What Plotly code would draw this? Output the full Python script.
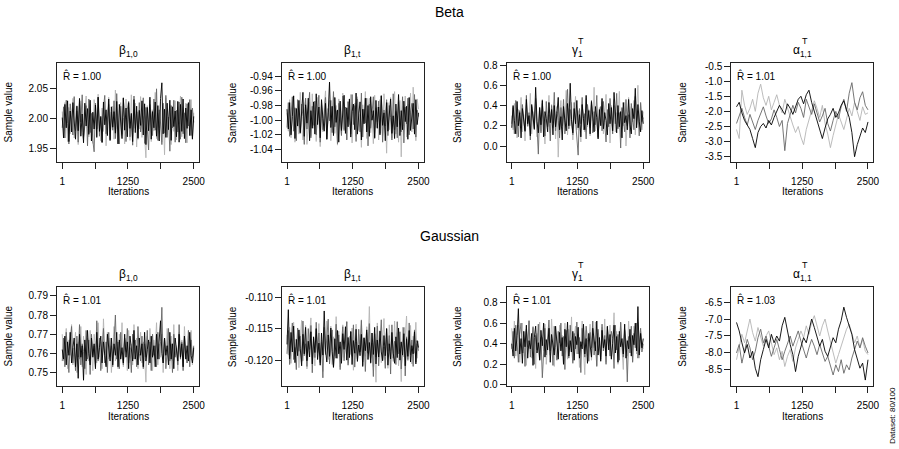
import plotly.graph_objects as go

# =============================================================================
# DATA (MCMC traces, 3 chains per parameter)
# =============================================================================
# thinned iteration grids: 100 draws for well-mixed chains, 50 for the slow ones
ITER_100 = [round(1 + j * 2499 / 99) for j in range(100)]
ITER_50 = [round(1 + j * 2499 / 49) for j in range(50)]
X_TICKS = [1, 1250, 2500]
X_MINOR_TICKS = [625, 1875]

GROUPS = ["Beta", "Gaussian"]
PARAM_LABELS = ["β<sub>1,0</sub>", "β<sub>1,t</sub>", "γ<sub>1</sub>", "α<sub>1,1</sub>"]
PARAM_SUPER = ["", "", "T", "T"]
RHAT_BETA = ["1.00", "1.00", "1.00", "1.01"]
RHAT_GAUSS = ["1.01", "1.01", "1.01", "1.03"]

# --- Beta model ---
B_B10_LIGHT = [2.012, 1.981, 2.027, 2.003, 1.962, 2.019, 1.975, 1.998, 2.034, 1.968,
               1.990, 2.022, 1.957, 2.008, 2.030, 1.977, 1.965, 2.015, 2.038, 1.984,
               1.970, 2.025, 1.996, 1.959, 2.032, 2.010, 1.972, 2.041, 1.988, 1.963,
               2.018, 1.979, 2.029, 1.955, 2.006, 2.036, 1.974, 1.993, 2.021, 1.966,
               2.048, 1.982, 1.960, 2.014, 2.027, 1.971, 2.001, 1.958, 2.033, 1.986,
               2.019, 1.964, 2.040, 1.978, 1.995, 2.026, 1.953, 2.011, 1.983, 2.037,
               1.969, 2.004, 1.976, 1.935, 2.022, 1.989, 2.031, 1.962, 2.015, 1.980,
               2.044, 1.967, 2.009, 1.985, 2.028, 1.961, 2.017, 1.940, 2.035, 1.973,
               1.998, 2.024, 1.957, 2.012, 1.979, 2.030, 1.965, 2.020, 1.991, 2.038,
               1.970, 2.007, 1.982, 2.026, 1.960, 2.016, 1.987, 2.032, 1.968, 2.010]
B_B10_DARK = [1.985, 2.020, 1.968, 2.031, 1.992, 1.958, 2.025, 2.004, 1.973, 2.037,
              1.980, 2.013, 1.961, 2.028, 1.995, 2.040, 1.969, 1.988, 2.022, 1.955,
              2.033, 1.977, 2.009, 1.964, 1.945, 2.026, 1.983, 2.036, 1.971, 2.002,
              1.960, 2.018, 2.039, 1.975, 1.996, 2.024, 1.963, 2.011, 1.981, 2.030,
              1.967, 2.042, 1.986, 1.958, 2.021, 1.974, 2.034, 1.990, 1.962, 2.016,
              2.029, 1.970, 2.005, 1.956, 2.038, 1.984, 2.012, 1.966, 2.027, 1.978,
              1.997, 2.035, 1.959, 2.019, 1.987, 1.948, 2.024, 2.008, 1.972, 2.033,
              1.981, 2.050, 1.964, 2.015, 1.993, 1.957, 2.026, 1.976, 2.039, 1.969,
              2.003, 1.946, 2.022, 1.985, 2.031, 1.961, 2.014, 1.978, 2.028, 1.966,
              2.036, 1.975, 2.010, 1.960, 2.025, 1.988, 2.032, 1.972, 2.018, 1.994]
B_B10_BLACK = [2.002, 1.968, 2.024, 1.985, 2.030, 1.962, 2.013, 1.978, 2.027, 1.994,
               1.966, 2.021, 1.980, 2.034, 1.971, 2.008, 1.960, 2.026, 1.988, 2.017,
               1.974, 2.031, 1.963, 2.011, 1.983, 2.023, 1.969, 2.036, 1.979, 2.004,
               1.961, 2.028, 1.990, 2.015, 1.972, 2.033, 1.965, 2.020, 1.986, 2.012,
               1.976, 2.029, 1.958, 2.024, 1.992, 1.967, 2.035, 1.981, 2.018, 1.970,
               2.027, 1.984, 2.009, 1.962, 2.032, 1.977, 2.021, 1.968, 2.014, 1.989,
               2.030, 1.973, 2.025, 1.957, 2.019, 1.980, 2.036, 1.966, 2.012, 1.985,
               2.028, 1.971, 2.022, 1.963, 2.034, 2.060, 1.975, 2.016, 1.969, 2.026,
               1.982, 2.031, 1.964, 2.020, 1.987, 2.013, 1.970, 2.029, 1.961, 2.024,
               1.979, 2.033, 1.967, 2.018, 1.984, 2.027, 1.972, 2.015, 1.966, 2.004]

B_B1T_LIGHT = [-0.990, -1.015, -0.972, -1.024, -0.985, -0.966, -1.030, -1.002, -0.978, -1.019,
               -0.962, -1.008, -1.027, -0.981, -0.970, -1.033, -0.993, -0.975, -1.021, -0.964,
               -1.011, -0.987, -1.029, -0.969, -0.998, -1.036, -0.976, -1.016, -0.983, -0.960,
               -1.023, -0.991, -0.973, -1.028, -1.004, -0.967, -1.018, -0.980, -1.034, -0.971,
               -0.995, -1.020, -0.963, -1.012, -0.986, -1.026, -0.974, -1.006, -0.965, -1.031,
               -0.988, -0.977, -1.022, -0.968, -1.014, -0.992, -1.037, -0.979, -1.003, -0.961,
               -1.025, -0.984, -0.970, -1.017, -0.996, -1.032, -0.966, -1.010, -0.982, -1.027,
               -0.972, -1.000, -1.021, -0.964, -0.989, -1.045, -0.976, -1.013, -0.969, -1.024,
               -0.985, -0.961, -1.019, -0.994, -1.030, -0.973, -1.050, -0.981, -1.008, -0.967,
               -1.023, -0.978, -1.002, -0.963, -1.016, -0.955, -0.988, -1.028, -0.971, -0.985]
B_B1T_DARK = [-1.010, -0.976, -1.022, -0.990, -0.968, -1.015, -0.983, -1.028, -0.972, -1.003,
              -1.018, -0.978, -0.995, -1.033, -0.970, -1.012, -0.986, -0.962, -1.024, -0.981,
              -1.007, -0.974, -1.020, -0.992, -0.966, -1.030, -0.979, -1.013, -0.988, -0.969,
              -1.026, -0.984, -1.001, -0.973, -1.017, -0.961, -1.009, -0.987, -1.032, -0.977,
              -0.994, -1.021, -0.967, -1.014, -0.982, -1.027, -0.975, -0.999, -1.019, -0.965,
              -1.006, -0.980, -1.029, -0.971, -0.997, -1.016, -0.963, -1.023, -0.985, -1.004,
              -0.970, -1.035, -0.978, -1.011, -0.991, -0.968, -1.025, -0.983, -1.002, -0.974,
              -1.018, -0.966, -1.030, -0.986, -1.008, -0.972, -1.021, -0.980, -0.996, -1.027,
              -0.964, -1.013, -0.988, -1.024, -0.975, -0.999, -1.016, -0.968, -1.031, -0.982,
              -1.005, -0.970, -1.020, -0.989, -0.977, -1.012, -0.965, -1.023, -0.986, -0.995]
B_B1T_BLACK = [-0.985, -1.012, -0.976, -1.020, -0.995, -0.967, -1.025, -0.984, -1.008, -0.973,
               -1.017, -0.990, -0.962, -1.022, -0.979, -1.004, -0.970, -1.028, -0.987, -1.011,
               -0.975, -1.019, -0.964, -1.006, -0.982, -1.024, -0.972, -0.998, -1.015, -0.977,
               -1.026, -0.989, -0.948, -1.010, -0.981, -1.021, -0.969, -1.003, -0.986, -1.030,
               -0.974, -1.014, -0.992, -0.966, -1.018, -0.983, -1.009, -0.971, -1.023, -0.988,
               -0.978, -1.013, -0.963, -1.019, -0.993, -0.975, -1.027, -0.985, -1.005, -0.970,
               -1.016, -0.980, -1.022, -0.968, -1.000, -0.987, -1.024, -0.973, -1.011, -0.982,
               -1.020, -0.967, -1.007, -0.990, -1.028, -0.976, -1.015, -0.984, -0.971, -1.018,
               -0.994, -1.025, -0.978, -1.009, -0.965, -1.021, -0.987, -1.013, -0.974, -1.002,
               -0.981, -1.026, -0.969, -1.014, -0.991, -0.977, -1.019, -0.972, -1.006, -0.990]

B_G1_LIGHT = [0.30, 0.16, 0.42, 0.22, 0.08, 0.36, 0.25, 0.48, 0.14, 0.31,
              0.05, 0.40, 0.19, 0.27, 0.52, 0.12, 0.34, 0.23, 0.44, 0.09,
              0.29, 0.38, 0.15, 0.46, 0.21, 0.02, 0.35, 0.26, 0.50, 0.13,
              0.41, 0.18, 0.32, 0.07, 0.39, -0.11, 0.28, 0.45, 0.17, 0.33,
              0.24, 0.55, 0.11, 0.37, 0.20, 0.43, 0.06, 0.30, 0.49, 0.16,
              0.35, 0.22, 0.04, 0.40, 0.27, 0.14, 0.47, 0.19, 0.36, 0.10,
              0.42, 0.25, 0.58, 0.15, 0.31, 0.08, 0.38, 0.21, 0.44, 0.12,
              0.29, 0.51, 0.18, 0.34, 0.03, 0.40, 0.23, 0.46, 0.14, 0.33,
              0.26, 0.54, 0.09, 0.37, 0.20, 0.43, 0.00, 0.32, 0.48, 0.15,
              0.39, 0.24, 0.45, 0.11, 0.35, 0.60, 0.19, 0.41, 0.16, 0.34]
B_G1_DARK = [0.22, 0.38, 0.12, 0.45, 0.27, 0.09, 0.35, 0.18, 0.41, 0.24,
             0.14, 0.50, 0.20, 0.33, 0.06, 0.39, 0.26, 0.16, 0.47, 0.21,
             -0.08, 0.36, 0.13, 0.42, 0.28, 0.10, 0.44, 0.19, 0.31, 0.05,
             0.40, 0.23, 0.53, 0.15, 0.34, 0.25, 0.08, 0.38, 0.20, 0.46,
             0.12, 0.30, 0.56, 0.17, 0.36, 0.24, 0.11, 0.43, 0.27, 0.14,
             -0.09, 0.37, 0.22, 0.48, 0.16, 0.32, 0.07, 0.41, 0.25, 0.18,
             0.45, 0.13, 0.34, 0.21, 0.50, 0.09, 0.29, 0.39, 0.15, 0.44,
             0.23, 0.04, 0.36, 0.19, 0.47, 0.26, 0.12, 0.40, 0.22, 0.52,
             0.17, 0.33, -0.02, 0.38, 0.25, 0.14, 0.46, 0.20, 0.31, 0.08,
             0.42, 0.27, 0.16, 0.49, 0.21, 0.35, 0.10, 0.43, 0.24, 0.28]
B_G1_BLACK = [0.18, 0.40, 0.25, 0.12, 0.44, 0.20, 0.33, 0.08, 0.37, 0.26,
              0.15, 0.46, 0.22, 0.30, 0.10, 0.41, 0.28, 0.17, 0.58, 0.24,
              0.13, 0.38, 0.21, 0.45, 0.09, 0.34, 0.27, 0.14, 0.43, 0.23,
              0.36, 0.11, 0.40, 0.19, 0.32, 0.48, 0.16, 0.29, 0.06, 0.39,
              0.25, 0.15, 0.42, 0.20, 0.62, 0.26, 0.13, 0.37, 0.22, 0.45,
              0.18, 0.31, 0.09, 0.41, 0.27, 0.16, 0.50, 0.21, 0.35, 0.12,
              0.44, 0.24, 0.14, 0.39, 0.28, 0.07, 0.36, 0.20, 0.47, 0.17,
              0.33, 0.25, 0.11, 0.42, 0.22, 0.38, 0.15, 0.53, 0.26, 0.13,
              0.40, 0.19, 0.34, 0.08, 0.43, 0.23, 0.30, 0.16, 0.46, 0.21,
              0.12, 0.37, 0.27, 0.57, 0.18, 0.41, 0.24, 0.14, 0.35, 0.22]

B_A11_LIGHT = [-2.60, -2.90, -1.30, -1.80, -2.10, -1.90, -1.60, -2.00, -1.40, -1.10,
               -1.55, -1.80, -1.50, -1.95, -1.70, -1.45, -1.80, -2.05, -1.60, -1.90,
               -2.20, -2.45, -2.70, -2.50, -2.85, -3.10, -2.60, -2.30, -2.00, -1.65,
               -1.90, -2.20, -1.80, -2.40, -2.75, -3.20, -2.80, -2.45, -2.10, -2.35,
               -2.60, -2.25, -1.90, -2.15, -1.70, -2.00, -2.30, -1.85, -2.10, -2.05]
B_A11_DARK = [-2.40, -2.15, -1.90, -2.20, -2.45, -2.10, -2.35, -2.60, -2.30, -2.05,
              -1.85, -2.15, -2.40, -2.25, -1.95, -2.20, -2.50, -2.30, -3.30, -2.40,
              -2.10, -1.80, -2.05, -1.70, -1.90, -2.20, -1.60, -1.85, -2.10, -1.75,
              -2.05, -2.35, -2.15, -1.90, -2.40, -2.65, -2.30, -2.00, -2.25, -1.85,
              -1.60, -2.00, -1.40, -1.05, -1.70, -1.95, -1.55, -1.35, -1.80, -1.95]
B_A11_BLACK = [-1.85, -1.70, -2.05, -2.30, -2.45, -2.60, -2.90, -3.20, -2.70, -2.50,
               -2.40, -2.55, -2.30, -2.45, -2.20, -2.00, -1.80, -1.95, -2.10, -1.75,
               -1.90, -2.10, -1.85, -1.60, -1.50, -1.75, -1.45, -1.30, -1.70, -2.00,
               -2.30, -2.60, -2.90, -2.55, -2.25, -2.10, -1.90, -2.20, -2.05, -1.80,
               -1.65, -1.95, -2.20, -2.70, -3.50, -3.10, -2.80, -2.55, -2.70, -2.35]

# --- Gaussian model ---
G_B10_LIGHT = [0.770, 0.756, 0.764, 0.773, 0.752, 0.767, 0.759, 0.775, 0.754, 0.762,
               0.771, 0.750, 0.766, 0.757, 0.774, 0.753, 0.769, 0.761, 0.749, 0.768,
               0.756, 0.772, 0.760, 0.751, 0.770, 0.763, 0.755, 0.776, 0.758, 0.766,
               0.752, 0.778, 0.761, 0.754, 0.771, 0.757, 0.768, 0.750, 0.765, 0.774,
               0.756, 0.763, 0.752, 0.770, 0.759, 0.776, 0.753, 0.767, 0.761, 0.751,
               0.772, 0.758, 0.765, 0.754, 0.775, 0.760, 0.768, 0.752, 0.763, 0.771,
               0.755, 0.766, 0.758, 0.745, 0.769, 0.756, 0.773, 0.760, 0.751, 0.767,
               0.762, 0.776, 0.754, 0.765, 0.758, 0.770, 0.750, 0.768, 0.757, 0.773,
               0.761, 0.752, 0.769, 0.756, 0.775, 0.759, 0.764, 0.751, 0.771, 0.757,
               0.767, 0.753, 0.774, 0.760, 0.755, 0.769, 0.758, 0.772, 0.754, 0.762]
G_B10_DARK = [0.756, 0.768, 0.753, 0.771, 0.760, 0.750, 0.766, 0.774, 0.755, 0.763,
              0.751, 0.769, 0.758, 0.775, 0.754, 0.765, 0.761, 0.752, 0.772, 0.757,
              0.767, 0.749, 0.770, 0.759, 0.764, 0.753, 0.777, 0.756, 0.768, 0.751,
              0.762, 0.773, 0.755, 0.766, 0.750, 0.771, 0.758, 0.764, 0.753, 0.769,
              0.780, 0.757, 0.766, 0.752, 0.771, 0.759, 0.754, 0.768, 0.761, 0.773,
              0.755, 0.763, 0.750, 0.770, 0.757, 0.767, 0.753, 0.774, 0.760, 0.756,
              0.769, 0.752, 0.765, 0.758, 0.772, 0.754, 0.766, 0.751, 0.770, 0.759,
              0.764, 0.753, 0.771, 0.757, 0.766, 0.784, 0.755, 0.768, 0.752, 0.761,
              0.773, 0.756, 0.765, 0.750, 0.770, 0.758, 0.763, 0.754, 0.775, 0.757,
              0.766, 0.751, 0.769, 0.760, 0.755, 0.772, 0.753, 0.767, 0.758, 0.764]
G_B10_BLACK = [0.762, 0.757, 0.769, 0.754, 0.766, 0.759, 0.771, 0.755, 0.763, 0.768,
               0.753, 0.765, 0.747, 0.770, 0.758, 0.764, 0.746, 0.767, 0.756, 0.772,
               0.760, 0.754, 0.768, 0.758, 0.765, 0.752, 0.771, 0.757, 0.763, 0.769,
               0.755, 0.766, 0.759, 0.753, 0.770, 0.761, 0.756, 0.768, 0.754, 0.765,
               0.759, 0.771, 0.753, 0.767, 0.757, 0.763, 0.755, 0.770, 0.758, 0.766,
               0.752, 0.769, 0.760, 0.756, 0.772, 0.757, 0.764, 0.754, 0.768, 0.759,
               0.765, 0.753, 0.771, 0.756, 0.762, 0.767, 0.755, 0.769, 0.758, 0.764,
               0.753, 0.770, 0.757, 0.766, 0.777, 0.760, 0.755, 0.768, 0.759, 0.764,
               0.754, 0.771, 0.757, 0.765, 0.752, 0.768, 0.760, 0.756, 0.770, 0.758,
               0.765, 0.753, 0.769, 0.757, 0.764, 0.756, 0.771, 0.759, 0.755, 0.763]

G_B1T_LIGHT = [-0.1160, -0.1192, -0.1148, -0.1205, -0.1171, -0.1140, -0.1198, -0.1183, -0.1152, -0.1212,
               -0.1166, -0.1137, -0.1201, -0.1177, -0.1145, -0.1214, -0.1188, -0.1158, -0.1133, -0.1196,
               -0.1174, -0.1209, -0.1150, -0.1185, -0.1142, -0.1203, -0.1168, -0.1218, -0.1155, -0.1190,
               -0.1138, -0.1199, -0.1176, -0.1146, -0.1207, -0.1163, -0.1193, -0.1131, -0.1187, -0.1154,
               -0.1211, -0.1170, -0.1144, -0.1196, -0.1180, -0.1139, -0.1205, -0.1162, -0.1191, -0.1149,
               -0.1216, -0.1173, -0.1143, -0.1200, -0.1159, -0.1186, -0.1136, -0.1208, -0.1167, -0.1194,
               -0.1147, -0.1181, -0.1115, -0.1197, -0.1157, -0.1210, -0.1170, -0.1235, -0.1141, -0.1189,
               -0.1153, -0.1204, -0.1175, -0.1134, -0.1199, -0.1161, -0.1213, -0.1144, -0.1185, -0.1169,
               -0.1202, -0.1138, -0.1192, -0.1156, -0.1209, -0.1172, -0.1234, -0.1148, -0.1195, -0.1165,
               -0.1130, -0.1201, -0.1178, -0.1145, -0.1206, -0.1162, -0.1189, -0.1140, -0.1197, -0.1170]
G_B1T_DARK = [-0.1190, -0.1153, -0.1207, -0.1168, -0.1141, -0.1199, -0.1180, -0.1215, -0.1149, -0.1186,
              -0.1162, -0.1202, -0.1138, -0.1193, -0.1174, -0.1210, -0.1150, -0.1183, -0.1145, -0.1220,
              -0.1165, -0.1196, -0.1140, -0.1188, -0.1157, -0.1204, -0.1172, -0.1228, -0.1148, -0.1191,
              -0.1163, -0.1135, -0.1206, -0.1178, -0.1152, -0.1212, -0.1169, -0.1143, -0.1197, -0.1160,
              -0.1215, -0.1184, -0.1147, -0.1201, -0.1166, -0.1139, -0.1208, -0.1176, -0.1154, -0.1194,
              -0.1144, -0.1211, -0.1171, -0.1198, -0.1151, -0.1187, -0.1137, -0.1203, -0.1164, -0.1218,
              -0.1156, -0.1189, -0.1142, -0.1205, -0.1173, -0.1226, -0.1158, -0.1195, -0.1146, -0.1209,
              -0.1167, -0.1136, -0.1200, -0.1179, -0.1213, -0.1150, -0.1186, -0.1161, -0.1222, -0.1144,
              -0.1197, -0.1170, -0.1207, -0.1139, -0.1190, -0.1155, -0.1214, -0.1177, -0.1148, -0.1225,
              -0.1163, -0.1199, -0.1141, -0.1192, -0.1168, -0.1210, -0.1152, -0.1203, -0.1174, -0.1185]
G_B1T_BLACK = [-0.1175, -0.1120, -0.1198, -0.1156, -0.1187, -0.1146, -0.1204, -0.1167, -0.1193, -0.1152,
               -0.1182, -0.1209, -0.1159, -0.1190, -0.1148, -0.1201, -0.1170, -0.1195, -0.1155, -0.1206,
               -0.1163, -0.1188, -0.1150, -0.1199, -0.1173, -0.1208, -0.1157, -0.1192, -0.1122, -0.1184,
               -0.1203, -0.1160, -0.1194, -0.1149, -0.1186, -0.1211, -0.1166, -0.1197, -0.1153, -0.1190,
               -0.1171, -0.1205, -0.1158, -0.1183, -0.1147, -0.1200, -0.1164, -0.1196, -0.1155, -0.1207,
               -0.1169, -0.1189, -0.1151, -0.1202, -0.1176, -0.1193, -0.1159, -0.1210, -0.1165, -0.1185,
               -0.1152, -0.1199, -0.1172, -0.1204, -0.1157, -0.1191, -0.1148, -0.1206, -0.1168, -0.1195,
               -0.1154, -0.1187, -0.1201, -0.1161, -0.1193, -0.1150, -0.1208, -0.1174, -0.1198, -0.1156,
               -0.1189, -0.1205, -0.1163, -0.1196, -0.1149, -0.1200, -0.1171, -0.1192, -0.1158, -0.1209,
               -0.1166, -0.1194, -0.1153, -0.1203, -0.1177, -0.1190, -0.1155, -0.1206, -0.1169, -0.1180]

G_G1_LIGHT = [0.55, 0.36, 0.62, 0.28, 0.47, 0.58, 0.22, 0.44, 0.60, 0.31,
              0.52, 0.19, 0.41, 0.63, 0.35, 0.26, 0.57, 0.45, 0.16, 0.50,
              0.38, 0.61, 0.24, 0.46, 0.33, 0.59, 0.20, 0.43, 0.55, 0.29,
              0.64, 0.37, 0.18, 0.51, 0.42, 0.27, 0.58, 0.34, 0.48, 0.21,
              0.60, 0.39, 0.25, 0.54, 0.32, 0.66, 0.23, 0.45, 0.57, 0.30,
              0.49, 0.17, 0.41, 0.62, 0.35, 0.10, 0.53, 0.28, 0.44, 0.59,
              0.24, 0.47, 0.36, 0.61, 0.19, 0.50, 0.40, 0.27, 0.56, 0.33,
              0.64, 0.22, 0.48, 0.38, 0.58, 0.26, 0.43, 0.70, 0.31, 0.52,
              0.20, 0.46, 0.60, 0.35, 0.15, 0.54, 0.42, 0.28, 0.62, 0.37,
              0.49, 0.23, 0.57, 0.40, 0.30, 0.61, 0.26, 0.52, 0.38, 0.35]
G_G1_DARK = [0.35, 0.52, 0.26, 0.58, 0.41, 0.22, 0.49, 0.60, 0.31, 0.45,
             0.18, 0.54, 0.37, 0.62, 0.27, 0.43, 0.56, 0.20, 0.48, 0.34,
             0.59, 0.25, 0.46, 0.07, 0.39, 0.55, 0.29, 0.50, 0.63, 0.33,
             0.44, 0.19, 0.57, 0.36, 0.24, 0.52, 0.41, 0.60, 0.28, 0.47,
             0.15, 0.53, 0.38, 0.26, 0.58, 0.43, 0.21, 0.50, 0.35, 0.61,
             0.30, 0.46, 0.12, 0.55, 0.39, 0.27, 0.57, 0.44, 0.23, 0.51,
             0.36, 0.62, 0.29, 0.42, 0.18, 0.54, 0.40, 0.25, 0.59, 0.33,
             0.48, 0.20, 0.56, 0.37, 0.28, 0.52, 0.45, 0.16, 0.58, 0.34,
             0.49, 0.24, 0.61, 0.38, 0.27, 0.53, 0.42, 0.03, 0.47, 0.31,
             0.57, 0.22, 0.50, 0.36, 0.60, 0.26, 0.44, 0.55, 0.32, 0.40]
G_G1_BLACK = [0.40, 0.28, 0.55, 0.33, 0.48, 0.74, 0.30, 0.45, 0.21, 0.52,
              0.37, 0.58, 0.26, 0.43, 0.35, 0.50, 0.19, 0.46, 0.57, 0.31,
              0.41, 0.24, 0.53, 0.38, 0.60, 0.27, 0.44, 0.34, 0.55, 0.22,
              0.49, 0.36, 0.29, 0.57, 0.40, 0.25, 0.51, 0.33, 0.46, 0.20,
              0.54, 0.37, 0.61, 0.28, 0.43, 0.32, 0.52, 0.24, 0.47, 0.39,
              0.56, 0.26, 0.42, 0.35, 0.59, 0.30, 0.45, 0.21, 0.50, 0.38,
              0.27, 0.55, 0.41, 0.33, 0.62, 0.29, 0.46, 0.23, 0.53, 0.36,
              0.44, 0.28, 0.57, 0.34, 0.49, 0.25, 0.40, 0.58, 0.31, 0.47,
              0.22, 0.52, 0.37, 0.45, 0.30, 0.59, 0.26, 0.43, 0.35, 0.54,
              0.28, 0.48, 0.39, 0.60, 0.33, 0.76, 0.29, 0.50, 0.36, 0.45]

G_A11_LIGHT = [-8.20, -7.80, -7.45, -7.70, -7.30, -7.00, -7.40, -7.65, -7.25, -7.55,
               -7.80, -7.50, -7.35, -7.70, -8.05, -7.85, -8.20, -7.95, -8.40, -8.10,
               -7.90, -8.25, -7.85, -7.60, -7.35, -7.55, -7.20, -7.45, -7.10, -6.90,
               -7.25, -7.50, -7.20, -7.00, -7.35, -7.65, -7.95, -8.30, -8.05, -7.80,
               -7.55, -7.30, -7.15, -7.45, -7.70, -7.50, -7.85, -7.60, -7.95, -8.05]
G_A11_DARK = [-8.00, -7.75, -8.30, -7.90, -7.60, -7.85, -8.20, -7.95, -7.55, -7.30,
              -7.70, -7.50, -7.80, -8.10, -7.85, -7.60, -7.90, -8.20, -7.95, -7.70,
              -7.50, -7.80, -7.60, -7.35, -7.65, -7.90, -8.15, -7.85, -7.60, -7.80,
              -8.05, -7.75, -8.00, -8.25, -8.10, -8.40, -8.65, -8.35, -8.55, -8.20,
              -8.60, -8.35, -8.50, -8.15, -7.90, -7.65, -7.85, -7.55, -7.80, -8.00]
G_A11_BLACK = [-7.10, -7.35, -7.70, -8.00, -7.75, -8.15, -7.95, -8.45, -8.70, -8.20,
               -7.90, -7.60, -7.85, -7.45, -7.70, -7.50, -7.65, -7.20, -6.95, -7.40,
               -7.75, -8.05, -8.55, -8.10, -7.80, -7.55, -7.70, -7.30, -7.00, -7.25,
               -7.50, -7.80, -7.60, -7.95, -8.10, -7.85, -7.55, -7.70, -7.30, -7.05,
               -6.65, -6.95, -7.20, -7.45, -7.90, -8.15, -8.45, -8.30, -8.80, -8.20]

# y tick values / labels per panel (row-major: Beta row then Gaussian row)
Y_TICKS = [
    [1.95, 2.00, 2.05],
    [-1.04, -1.02, -1.00, -0.98, -0.96, -0.94],
    [0.0, 0.2, 0.4, 0.6, 0.8],
    [-3.5, -3.0, -2.5, -2.0, -1.5, -1.0, -0.5],
    [0.75, 0.76, 0.77, 0.78, 0.79],
    [-0.120, -0.115, -0.110],
    [0.0, 0.2, 0.4, 0.6, 0.8],
    [-8.5, -8.0, -7.5, -7.0, -6.5],
]
Y_TICK_FMT = ["{:.2f}", "{:.2f}", "{:.1f}", "{:.1f}", "{:.2f}", "{:.3f}", "{:.1f}", "{:.1f}"]
Y_RANGES = [
    [1.928, 2.093], [-1.057, -0.922], [-0.158, 0.82], [-3.675, -0.40],
    [0.743, 0.7946], [-0.1241, -0.1084], [-0.01, 0.95], [-8.975, -6.055],
]

CHAINS = [
    (B_B10_LIGHT, B_B10_DARK, B_B10_BLACK),
    (B_B1T_LIGHT, B_B1T_DARK, B_B1T_BLACK),
    (B_G1_LIGHT, B_G1_DARK, B_G1_BLACK),
    (B_A11_LIGHT, B_A11_DARK, B_A11_BLACK),
    (G_B10_LIGHT, G_B10_DARK, G_B10_BLACK),
    (G_B1T_LIGHT, G_B1T_DARK, G_B1T_BLACK),
    (G_G1_LIGHT, G_G1_DARK, G_G1_BLACK),
    (G_A11_LIGHT, G_A11_DARK, G_A11_BLACK),
]
CHAIN_COLORS = ["#b4b4b4", "#666666", "#000000"]

# =============================================================================
# LAYOUT GEOMETRY (pixels)
# =============================================================================
W, H = 899, 449
COL_LEFT = [57, 281.75, 506.5, 731.25]
BOX_W = 142
ROW_TOP = [63, 287]
BOX_H = 99
FONT = "Liberation Sans, Arial, sans-serif"


def px(x):
    return x / W


def py(y):
    return 1 - y / H


def note(x, y, text, size=10, xanchor="center", **kw):
    return dict(x=px(x), y=py(y), xref="paper", yref="paper", text=text,
                xanchor=xanchor, yanchor="middle", showarrow=False,
                font=dict(family=FONT, size=size, color="black"), **kw)


fig = go.Figure()
layout = dict(
    template="none",
    width=W, height=H, margin=dict(l=0, r=0, t=0, b=0, pad=0),
    paper_bgcolor="white", plot_bgcolor="white", showlegend=False,
    font=dict(family=FONT, size=10, color="black"),
)
annotations = []

for k in range(8):
    r, c = divmod(k, 4)
    n = k + 1
    xa = "xaxis" if n == 1 else f"xaxis{n}"
    ya = "yaxis" if n == 1 else f"yaxis{n}"
    xr = "x" if n == 1 else f"x{n}"
    yr = "y" if n == 1 else f"y{n}"
    left, top = COL_LEFT[c], ROW_TOP[r]

    for vals, color in zip(CHAINS[k], CHAIN_COLORS):
        xs = ITER_100 if len(vals) == 100 else ITER_50
        fig.add_trace(go.Scatter(
            x=xs, y=vals, mode="lines", xaxis=xr, yaxis=yr,
            line=dict(color=color, width=0.9), hoverinfo="skip",
        ))

    common = dict(showline=True, mirror=True, linecolor="#222222", linewidth=1,
                  ticks="outside", ticklen=6, tickwidth=1, tickcolor="#222222",
                  showgrid=False, zeroline=False, fixedrange=True, automargin=False,
                  tickfont=dict(family=FONT, size=10, color="black"))
    layout[xa] = dict(common, domain=[px(left), px(left + BOX_W)], anchor=yr,
                      range=[-99, 2600], tickmode="array", tickvals=X_TICKS,
                      ticktext=[str(v) for v in X_TICKS], ticklabelstandoff=4,
                      minor=dict(tickmode="array", tickvals=X_MINOR_TICKS, ticks="outside",
                                 ticklen=6, tickwidth=1, tickcolor="#222222", showgrid=False))
    layout[ya] = dict(common, domain=[py(top + BOX_H), py(top)], anchor=xr,
                      range=Y_RANGES[k], tickmode="array", tickvals=Y_TICKS[k],
                      ticktext=[Y_TICK_FMT[k].format(v) for v in Y_TICKS[k]])

    cx = left + BOX_W / 2
    # panel title (parameter symbol, stacked superscript where needed)
    annotations.append(note(cx, top - 12, PARAM_LABELS[c], size=12))
    if PARAM_SUPER[c]:
        annotations.append(note(cx + 3, top - 22, PARAM_SUPER[c], size=9))
    # R-hat (R with combining circumflex)
    rhat = (RHAT_BETA if r == 0 else RHAT_GAUSS)[c]
    annotations.append(note(left + 4, top + 12, f"R\u0302 = {rhat}", xanchor="left"))
    # axis titles
    annotations.append(note(cx, top + BOX_H + 30, "Iterations"))
    annotations.append(note(left - 49, top + BOX_H / 2, "Sample value", textangle=-90))

# group titles
for r, name in enumerate(GROUPS):
    annotations.append(note(W / 2, ROW_TOP[r] - 51, name, size=14))

annotations.append(note(892, 416, "Dataset: 80/100", size=8, textangle=-90))

layout["annotations"] = annotations
fig.update_layout(**layout)

# the page body has a default 8px margin; drop it so the figure sits at (0, 0)
fig.write_html("out.html", config={"displayModeBar": False},
               post_script="document.body.style.margin='0';")
